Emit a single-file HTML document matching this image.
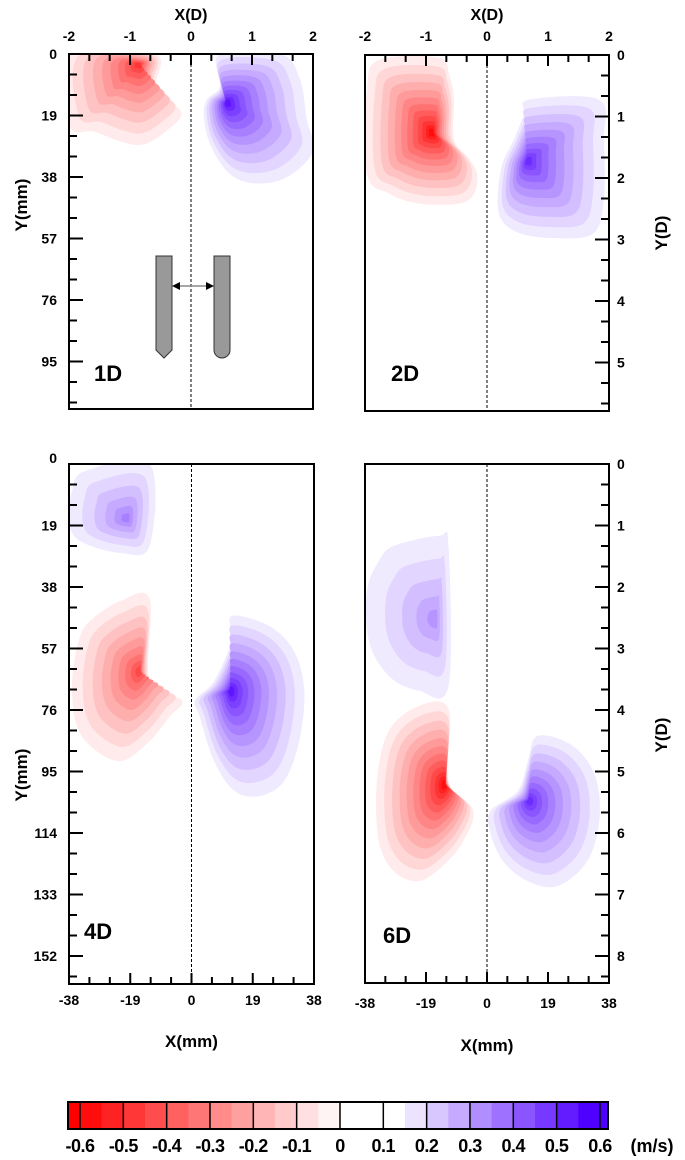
<!DOCTYPE html>
<html><head><meta charset="utf-8"><style>
html,body{margin:0;padding:0;background:#fff}
svg{display:block;font-family:"Liberation Sans",Arial,sans-serif}
</style></head><body>
<svg id="fig" width="685" height="1160" viewBox="0 0 685 1160" xmlns="http://www.w3.org/2000/svg"></svg>
<script>
// ---- data ----
const panelNames = ['1D','2D','4D','6D'];
const panelYMax = [109, 109, 160, 160]; // mm
const xTicksD = [-2,-1,0,1,2];
const xTicksMM = [-38,-19,0,19,38];
const yTicksMM1 = [0,19,38,57,76,95];
const yTicksMM3 = [0,19,38,57,76,95,114,133,152];
const yTicksD2 = [0,1,2,3,4,5];
const yTicksD4 = [0,1,2,3,4,5,6,7,8];
const cbarTicks = [-0.6,-0.5,-0.4,-0.3,-0.2,-0.1,0,0.1,0.2,0.3,0.4,0.5,0.6];
// blobs: panel index, peak value (m/s), peak location (mm), outer contour (mm)
const blobPanel = [0,0,1,1,2,2,2,3,3,3];
const blobPeak = [-0.5,0.55,-0.6,0.5,0.3,-0.45,0.55,0.25,-0.6,0.5];
const blobCenter = [[-16,3],[11,15],[-17,24],[12.5,32.7],[-20,17],[-16,64],[12,70],[-16,48],[-13,99],[13,104]];
const blobOutline = [
 [[-38,0],[-11,0],[-11,11],[-3,18],[-8,24],[-15,28],[-22,27],[-30,24],[-38,22]],
 [[9,0],[28,0],[34,8],[36,20],[38,30],[30,38],[20,40],[12,37],[6,28],[4,19],[5,14],[9,10]],
 [[-37.4,10.7],[-33.6,1.5],[-15,0.9],[-11.8,6.1],[-10.3,13.8],[-10.3,26],[-5.6,32],[-3.1,36.7],[-4,42.8],[-8.7,45.9],[-21.2,45.9],[-30.5,42.8],[-37.4,36.7]],
 [[13,13.8],[34.9,13.8],[36.4,26],[36.4,44.4],[33.3,55],[22.4,56.6],[10,55],[3.7,49],[4.4,35.2],[8.4,26],[11.5,18.4]],
 [[-33,2.2],[-13,0],[-13,25.3],[-22,27.5],[-34.6,23.8],[-38,17.6],[-37,8.3]],
 [[-31.5,48.5],[-22,42.3],[-13,41.7],[-13,67],[-3,73],[-6.8,78],[-13,85.6],[-22,91.8],[-31.5,87],[-36,79.4],[-37,67],[-35,54.7]],
 [[12.4,47],[24,50],[31.8,57.8],[35,70],[33.4,85.6],[28.7,98],[21,102.6],[13.3,101],[7,91.8],[2.5,77.9],[1.2,73],[7,67],[12.4,54.7]],
 [[-29,25.3],[-15,22.2],[-12,25.3],[-12,68.6],[-21.3,70],[-30.6,65.5],[-36.8,54.7],[-37.4,39.2],[-33.7,30]],
 [[-21.3,74.8],[-12,75.7],[-12,98],[-4.3,107],[-7.4,116.5],[-13.6,124],[-21.3,128.9],[-29,125.8],[-33.7,116.5],[-34.3,98],[-30.6,82.5]],
 [[15.8,84],[26.6,87],[33.7,96.4],[35,110],[31.2,122.7],[22,130.4],[12.7,128.9],[5,122.7],[0.9,113.4],[1.2,107],[9.6,101],[12.7,91.8]]
];

// ---- layout ----
const PANELS = [
 {l:69,r:313,t:54,b:409},
 {l:365,r:609,t:55,b:411},
 {l:69,r:314,t:464,b:984},
 {l:365,r:609,t:464,b:983}
];
const NS='http://www.w3.org/2000/svg';
const svg=document.getElementById('fig');
function mk(tag,attrs,parent){const e=document.createElementNS(NS,tag);for(const k in attrs)e.setAttribute(k,attrs[k]);(parent||svg).appendChild(e);return e;}
function xs(p,mm){const P=PANELS[p];return P.l+(mm+38)/76*(P.r-P.l);}
function ys(p,mm){const P=PANELS[p];return P.t+mm*(61.5/19);}
function colorFor(v){
 const k=Math.min(Math.abs(v)/0.6,1);
 if(v<0){const g=Math.round(255*(1-0.95*k));return `rgb(255,${g},${g})`;}
 const r=Math.round(255-(255-80)*k),g=Math.round(255-255*k),b=255;
 return `rgb(${r},${g},${b})`;
}
function smoothPath(pts){
 const n=pts.length;let d=`M${pts[0][0].toFixed(1)},${pts[0][1].toFixed(1)}`;
 for(let i=0;i<n;i++){
  const p0=pts[(i-1+n)%n],p1=pts[i],p2=pts[(i+1)%n],p3=pts[(i+2)%n];
  const c1=[p1[0]+(p2[0]-p0[0])/6,p1[1]+(p2[1]-p0[1])/6];
  const c2=[p2[0]-(p3[0]-p1[0])/6,p2[1]-(p3[1]-p1[1])/6];
  d+=`C${c1[0].toFixed(1)},${c1[1].toFixed(1)} ${c2[0].toFixed(1)},${c2[1].toFixed(1)} ${p2[0].toFixed(1)},${p2[1].toFixed(1)}`;
 }
 return d+'Z';
}
const defs=mk('defs',{});
PANELS.forEach((P,i)=>{
 const cp=mk('clipPath',{id:'clip'+i},defs);
 mk('rect',{x:P.l,y:P.t,width:P.r-P.l,height:P.b-P.t},cp);
});

// ---- contours ----
blobPeak.forEach((peak,bi)=>{
 const p=blobPanel[bi];
 const g=mk('g',{'clip-path':`url(#clip${p})`});
 
 
 const n=Math.round(Math.abs(peak)/0.05);
 const c=blobCenter[bi];
 for(let k=1;k<=n;k++){
  const s=Math.pow(1-(k-1)/n,1.5)*0.97+0.03;
  const pts=blobOutline[bi].map(q=>[xs(p,c[0]+(q[0]-c[0])*s),ys(p,c[1]+(q[1]-c[1])*s)]);
  const path=mk('path',{d:smoothPath(pts),fill:colorFor(Math.sign(peak)*0.05*k)},g);
  
  
 }
});

// ---- frames, ticks ----
function txt(x,y,s,opt,name){
 const t=mk('text',Object.assign({x:x,y:y,'font-size':14,'font-weight':'bold','text-anchor':'middle',fill:'#000'},opt||{}));
 t.textContent=s;return t;
}
PANELS.forEach((P,i)=>{
 const f=mk('rect',{x:P.l,y:P.t,width:P.r-P.l,height:P.b-P.t,fill:'none',stroke:'#000','stroke-width':2});
 
 const cl=mk('line',{x1:xs(i,0),x2:xs(i,0),y1:P.t,y2:P.b,stroke:'#000','stroke-width':1,'stroke-dasharray':'3,2'});
 
 const top=i<2, left=(i%2===0);
 const axX = top?P.t:P.b, dirX= top?1:-1;
 for(let m=-38;m<=38.01;m+=19/3){
  const major=Math.abs(Math.round(m/19)*19-m)<0.01;
  const x=xs(i,m);const L=major?11:7;
  mk('line',{x1:x,x2:x,y1:axX,y2:axX+dirX*L,stroke:'#000','stroke-width':2});
 }
 const axY = left?P.l:P.r, dirY= left?1:-1;
 for(let m=0;m<=panelYMax[i]+0.5 && ys(i,m)<P.b-2;m+=19/3){
  const major=Math.abs(Math.round(m/19)*19-m)<0.01;
  const y=ys(i,m);const L=major?14:8;
  mk('line',{x1:axY,x2:axY+dirY*L,y1:y,y2:y,stroke:'#000','stroke-width':2});
 }
});
// top X(D) labels
[0,1].forEach(i=>{
 xTicksD.forEach(v=>txt(xs(i,v*19),41,String(v),{},'x-tick-label-D'));
 txt(xs(i,0),20,'X(D)',{'font-size':16},'x-axis-title-D');
});
// bottom X(mm)
[2,3].forEach(i=>{
 xTicksMM.forEach(v=>txt(xs(i,v),1005+(i-2)*3,String(v),{},'x-tick-label-mm'));
 txt(xs(i,0),1047+(i-2)*4,'X(mm)',{'font-size':17},'x-axis-title-mm');
});
yTicksMM1.forEach(v=>txt(57,ys(0,v)+5,String(v),{'text-anchor':'end'},'y-tick-label-mm'));
yTicksMM3.forEach(v=>txt(57,ys(2,v)+(v===0?-1:5),String(v),{'text-anchor':'end'},'y-tick-label-mm'));
yTicksD2.forEach(v=>txt(617,ys(1,v*19)+5,String(v),{'text-anchor':'start'},'y-tick-label-D'));
yTicksD4.forEach(v=>txt(617,ys(3,v*19)+5,String(v),{'text-anchor':'start'},'y-tick-label-D'));
txt(0,0,'Y(mm)',{'font-size':17,transform:'translate(27,205) rotate(-90)'},'y-axis-title-mm');
txt(0,0,'Y(mm)',{'font-size':17,transform:'translate(27,775) rotate(-90)'},'y-axis-title-mm');
txt(0,0,'Y(D)',{'font-size':17,transform:'translate(667,233) rotate(-90)'},'y-axis-title-D');
txt(0,0,'Y(D)',{'font-size':17,transform:'translate(667,735) rotate(-90)'},'y-axis-title-D');
// panel labels
txt(94,381,'1D',{'font-size':22,'text-anchor':'start'},'panel-label-1D');
txt(391,381,'2D',{'font-size':22,'text-anchor':'start'},'panel-label-2D');
txt(84,939,'4D',{'font-size':22,'text-anchor':'start'},'panel-label-4D');
txt(383,943,'6D',{'font-size':22,'text-anchor':'start'},'panel-label-6D');

// pipes
const pg=mk('g',{});
mk('path',{d:'M156,256 H172 V350 L164,358 L156,350 Z',fill:'#999',stroke:'#333','stroke-width':1},pg);
mk('path',{d:'M214,256 H230 V350 A8,8 0 0 1 214,350 Z',fill:'#999',stroke:'#333','stroke-width':1},pg);
mk('line',{x1:178,x2:208,y1:286,y2:286,stroke:'#888','stroke-width':1.5},pg);
mk('path',{d:'M172,286 L180,282 L180,290 Z',fill:'#000'},pg);
mk('path',{d:'M214,286 L206,282 L206,290 Z',fill:'#000'},pg);

// colorbar
const cb=mk('g',{});
const cbL=68,cbR=608,cbT=1102,cbB=1129,step=43.33;
function cbx(v){return 80+(v+0.6)/0.1*step;}
mk('rect',{x:cbL,y:cbT,width:cbx(-0.6)-cbL,height:cbB-cbT,fill:'rgb(255,0,0)'},cb);
mk('rect',{x:cbx(0.6),y:cbT,width:cbR-cbx(0.6),height:cbB-cbT,fill:colorFor(0.6)},cb);
for(let h=0;h<24;h++){
 const v0=-0.6+h*0.05;let col;
 if(h<12){col=colorFor(-(0.575-h*0.05)*0.6/0.575);}
 else if(h<15){col='#fff';}
 else {col=colorFor((h-14)*0.05*0.6/0.45);}
 const r=mk('rect',{x:cbx(v0),y:cbT,width:step/2+0.5,height:cbB-cbT,fill:col},cb);
 
}
cbarTicks.forEach(v=>{mk('line',{x1:cbx(v),x2:cbx(v),y1:cbT,y2:cbB,stroke:'#000','stroke-width':1.5},cb);});
mk('rect',{x:cbL,y:cbT,width:cbR-cbL,height:cbB-cbT,fill:'none',stroke:'#000','stroke-width':2},cb);
cbarTicks.forEach(v=>txt(cbx(v),1152,String(v),{'font-size':18,'letter-spacing':'-0.5'},'colorbar-tick-label'));
txt(652,1152,'(m/s)',{'font-size':18},'colorbar-unit');
</script>
</body></html>
